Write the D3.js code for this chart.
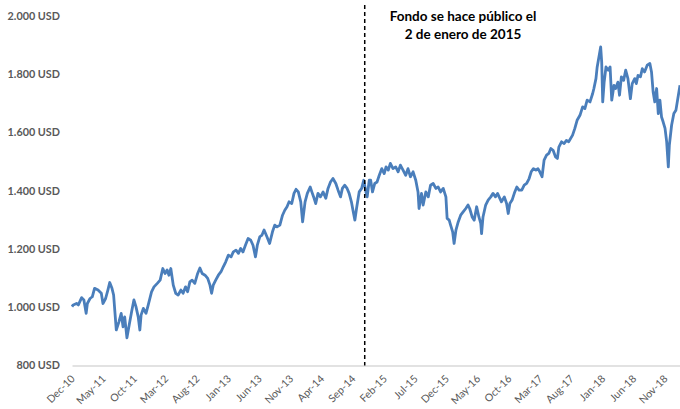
<!DOCTYPE html>
<html>
<head>
<meta charset="utf-8">
<script src="https://cdn.jsdelivr.net/npm/d3@7"></script>
<style>
  body { margin: 0; background: #fff; }
  svg { display: block; }
</style>
</head>
<body>
<div id="chart"></div>
<script>
// Fund value (USD): [date, value]
const navSeries = [
  ["2010-12-01", 1002], ["2010-12-07", 1008], ["2010-12-23", 1013], ["2011-01-01", 1008],
  ["2011-01-17", 1033], ["2011-01-28", 1025], ["2011-02-08", 979], ["2011-02-14", 1013],
  ["2011-02-27", 1030], ["2011-03-10", 1036], ["2011-03-21", 1065], ["2011-04-07", 1059],
  ["2011-04-23", 1048], ["2011-05-01", 1013], ["2011-05-14", 1030], ["2011-05-25", 1059],
  ["2011-06-03", 1085], ["2011-06-14", 1065], ["2011-06-22", 1042], ["2011-07-02", 950],
  ["2011-07-05", 922], ["2011-07-18", 950], ["2011-07-29", 979], ["2011-08-07", 933],
  ["2011-08-15", 967], ["2011-08-26", 895], ["2011-09-06", 939], ["2011-09-18", 985],
  ["2011-09-29", 1025], ["2011-10-09", 1002], ["2011-10-20", 967], ["2011-10-28", 922],
  ["2011-11-03", 973], ["2011-11-14", 996], ["2011-11-27", 979], ["2011-12-08", 1008],
  ["2011-12-24", 1053], ["2012-01-05", 1070], ["2012-01-21", 1082], ["2012-02-04", 1093],
  ["2012-02-17", 1133], ["2012-02-28", 1116], ["2012-03-09", 1128], ["2012-03-18", 1110],
  ["2012-03-27", 1133], ["2012-04-08", 1076], ["2012-04-20", 1048], ["2012-05-02", 1042],
  ["2012-05-15", 1059], ["2012-05-26", 1048], ["2012-06-07", 1070], ["2012-06-17", 1053],
  ["2012-06-28", 1087], ["2012-07-09", 1093], ["2012-07-22", 1082], ["2012-08-05", 1116],
  ["2012-08-16", 1135], ["2012-08-27", 1116], ["2012-09-10", 1110], ["2012-09-23", 1099],
  ["2012-10-04", 1076], ["2012-10-12", 1048], ["2012-10-20", 1076], ["2012-11-01", 1093],
  ["2012-11-14", 1110], ["2012-11-27", 1122], ["2012-12-08", 1139], ["2012-12-20", 1156],
  ["2013-01-02", 1179], ["2013-01-15", 1173], ["2013-01-26", 1190], ["2013-02-08", 1196],
  ["2013-02-20", 1185], ["2013-03-03", 1202], ["2013-03-14", 1190], ["2013-03-26", 1213],
  ["2013-04-08", 1236], ["2013-04-21", 1230], ["2013-05-02", 1213], ["2013-05-14", 1173],
  ["2013-05-23", 1213], ["2013-06-04", 1242], ["2013-06-15", 1248], ["2013-06-25", 1265],
  ["2013-07-09", 1242], ["2013-07-22", 1219], ["2013-08-05", 1259], ["2013-08-16", 1282],
  ["2013-08-27", 1276], ["2013-09-10", 1282], ["2013-09-23", 1316], ["2013-10-04", 1333],
  ["2013-10-15", 1345], ["2013-10-25", 1362], ["2013-11-07", 1356], ["2013-11-18", 1391],
  ["2013-11-28", 1405], ["2013-12-09", 1396], ["2013-12-21", 1362], ["2013-12-30", 1293],
  ["2014-01-11", 1362], ["2014-01-22", 1391], ["2014-02-05", 1413], ["2014-02-13", 1396],
  ["2014-02-24", 1374], ["2014-03-04", 1356], ["2014-03-15", 1391], ["2014-03-27", 1379],
  ["2014-04-09", 1396], ["2014-04-22", 1374], ["2014-05-03", 1408], ["2014-05-15", 1430],
  ["2014-05-27", 1442], ["2014-06-10", 1425], ["2014-06-21", 1402], ["2014-07-03", 1379],
  ["2014-07-12", 1408], ["2014-07-23", 1419], ["2014-08-04", 1408], ["2014-08-14", 1391],
  ["2014-08-25", 1362], ["2014-09-03", 1328], ["2014-09-11", 1299], ["2014-09-19", 1339],
  ["2014-10-02", 1396], ["2014-10-14", 1408], ["2014-10-24", 1436], ["2014-11-04", 1396],
  ["2014-11-10", 1379], ["2014-11-20", 1436], ["2014-11-27", 1436], ["2014-12-06", 1396],
  ["2014-12-17", 1425], ["2014-12-28", 1430], ["2015-01-08", 1453], ["2015-01-20", 1476],
  ["2015-02-01", 1459], ["2015-02-10", 1482], ["2015-02-21", 1471], ["2015-03-03", 1494],
  ["2015-03-16", 1476], ["2015-03-29", 1482], ["2015-04-10", 1465], ["2015-04-21", 1488],
  ["2015-05-04", 1471], ["2015-05-17", 1453], ["2015-05-28", 1476], ["2015-06-09", 1448],
  ["2015-06-22", 1465], ["2015-07-05", 1436], ["2015-07-16", 1396], ["2015-07-21", 1339],
  ["2015-08-02", 1391], ["2015-08-10", 1351], ["2015-08-23", 1396], ["2015-09-04", 1379],
  ["2015-09-15", 1419], ["2015-09-28", 1425], ["2015-10-11", 1408], ["2015-10-22", 1413],
  ["2015-11-03", 1396], ["2015-11-16", 1408], ["2015-11-29", 1379], ["2015-12-05", 1305],
  ["2015-12-15", 1299], ["2015-12-22", 1282], ["2016-01-01", 1259], ["2016-01-08", 1219],
  ["2016-01-17", 1265], ["2016-01-28", 1293], ["2016-02-09", 1316], ["2016-02-22", 1328],
  ["2016-03-05", 1339], ["2016-03-16", 1351], ["2016-03-24", 1339], ["2016-04-05", 1310],
  ["2016-04-15", 1299], ["2016-04-27", 1345], ["2016-05-08", 1310], ["2016-05-17", 1288],
  ["2016-05-21", 1253], ["2016-05-28", 1310], ["2016-06-10", 1351], ["2016-06-22", 1368],
  ["2016-07-05", 1379], ["2016-07-16", 1391], ["2016-07-28", 1379], ["2016-08-07", 1391],
  ["2016-08-18", 1374], ["2016-08-26", 1362], ["2016-09-09", 1379], ["2016-09-20", 1356],
  ["2016-09-28", 1322], ["2016-10-06", 1356], ["2016-10-17", 1368], ["2016-10-30", 1396],
  ["2016-11-09", 1413], ["2016-11-20", 1402], ["2016-12-03", 1402], ["2016-12-15", 1419],
  ["2016-12-27", 1425], ["2017-01-08", 1442], ["2017-01-18", 1465], ["2017-01-29", 1476],
  ["2017-02-10", 1471], ["2017-02-20", 1476], ["2017-03-01", 1465], ["2017-03-12", 1448],
  ["2017-03-22", 1505], ["2017-04-03", 1522], ["2017-04-14", 1528], ["2017-04-24", 1545],
  ["2017-05-05", 1539], ["2017-05-17", 1516], ["2017-05-26", 1511], ["2017-06-02", 1550],
  ["2017-06-15", 1568], ["2017-06-28", 1562], ["2017-07-09", 1573], ["2017-07-20", 1568],
  ["2017-08-08", 1591], ["2017-08-19", 1614], ["2017-08-30", 1642], ["2017-09-13", 1659],
  ["2017-09-26", 1688], ["2017-10-07", 1682], ["2017-10-18", 1711], ["2017-11-01", 1705],
  ["2017-11-14", 1734], ["2017-11-20", 1751], ["2017-11-30", 1785], ["2017-12-06", 1825],
  ["2017-12-16", 1865], ["2017-12-23", 1894], ["2017-12-28", 1842], ["2018-01-02", 1705],
  ["2018-01-09", 1773], ["2018-01-18", 1825], ["2018-01-29", 1814], ["2018-02-07", 1825],
  ["2018-02-15", 1711], ["2018-02-26", 1762], ["2018-03-06", 1751], ["2018-03-17", 1773],
  ["2018-03-25", 1728], ["2018-04-03", 1791], ["2018-04-14", 1779], ["2018-04-24", 1814],
  ["2018-05-05", 1785], ["2018-05-17", 1716], ["2018-05-26", 1768], ["2018-06-07", 1785],
  ["2018-06-15", 1768], ["2018-06-23", 1796], ["2018-07-05", 1791], ["2018-07-14", 1819],
  ["2018-07-25", 1808], ["2018-08-07", 1831], ["2018-08-20", 1837], ["2018-08-28", 1808],
  ["2018-09-05", 1739], ["2018-09-13", 1705], ["2018-09-22", 1751], ["2018-09-30", 1665],
  ["2018-10-08", 1711], ["2018-10-16", 1653], ["2018-10-24", 1636], ["2018-11-02", 1614],
  ["2018-11-10", 1568], ["2018-11-18", 1482], ["2018-11-23", 1556], ["2018-12-04", 1625],
  ["2018-12-15", 1665], ["2018-12-25", 1676], ["2019-01-06", 1728], ["2019-01-14", 1762]
];

const yTicks = [800, 1000, 1200, 1400, 1600, 1800, 2000];
const xTickLabels = [
  "Dec-10", "May-11", "Oct-11", "Mar-12", "Aug-12", "Jan-13", "Jun-13",
  "Nov-13", "Apr-14", "Sep-14", "Feb-15", "Jul-15", "Dec-15", "May-16",
  "Oct-16", "Mar-17", "Aug-17", "Jan-18", "Jun-18", "Nov-18"
];
const xDomain = ["2010-12-01", "2019-01-14"];
const markerDate = "2014-10-29";
const noteLines = ["Fondo se hace público el", "2 de enero de 2015"];

const WIDTH = 680;
const HEIGHT = 409;
const margin = { top: 16, right: 0, bottom: 43.5, left: 72 };
const FONT = "Lato, 'Open Sans', sans-serif";
const LINE_COLOR = "#4a7ebb";
const AXIS_COLOR = "#d9d9d9";
const LABEL_COLOR = "#595959";

const parseDate = d3.timeParse("%Y-%m-%d");
const parseTick = d3.timeParse("%b-%y");
const data = navSeries.map(([d, v]) => ({ date: parseDate(d), value: v }));

const svg = d3.select("#chart")
  .append("svg")
  .attr("width", WIDTH)
  .attr("height", HEIGHT);

const x = d3.scaleTime()
  .domain(xDomain.map(parseDate))
  .range([margin.left, WIDTH - margin.right]);

const y = d3.scaleLinear()
  .domain([800, 2000])
  .range([HEIGHT - margin.bottom, margin.top]);

const usd = v => d3.format(",")(v).replace(/,/g, ".") + " USD";

// y axis: labels only
const yAxis = svg.append("g")
  .attr("transform", `translate(${margin.left},0)`)
  .call(d3.axisLeft(y).tickValues(yTicks).tickSize(0).tickPadding(12).tickFormat(usd));
yAxis.select(".domain").remove();
yAxis.selectAll("text")
  .attr("fill", LABEL_COLOR)
  .attr("font-family", FONT)
  .attr("font-size", 10.8)
  .attr("font-weight", "bold");

// x axis: baseline + rotated month labels
const xAxis = svg.append("g")
  .attr("transform", `translate(0,${y(800)})`)
  .call(d3.axisBottom(x)
    .tickValues(xTickLabels.map(parseTick))
    .tickSize(0)
    .tickSizeOuter(0)
    .tickFormat(d3.timeFormat("%b-%y")));
xAxis.select(".domain")
  .attr("stroke", AXIS_COLOR)
  .attr("stroke-width", 1.5);
xAxis.selectAll("text")
  .attr("x", 0)
  .attr("y", 0)
  .attr("dy", 0)
  .attr("transform", "translate(3,14) rotate(-45)")
  .attr("text-anchor", "end")
  .attr("fill", LABEL_COLOR)
  .attr("font-family", FONT)
  .attr("font-size", 10.5);

// the series
const line = d3.line()
  .x(d => x(d.date))
  .y(d => y(d.value));

svg.append("path")
  .datum(data)
  .attr("fill", "none")
  .attr("stroke", LINE_COLOR)
  .attr("stroke-width", 2.8)
  .attr("stroke-linejoin", "round")
  .attr("d", line);

// listing marker
const mx = x(parseDate(markerDate));
svg.append("line")
  .attr("x1", mx)
  .attr("x2", mx)
  .attr("y1", 5)
  .attr("y2", y(800))
  .attr("stroke", "#000")
  .attr("stroke-width", 1.5)
  .attr("stroke-dasharray", "4,3");

svg.append("g")
  .selectAll("text")
  .data(noteLines)
  .join("text")
  .attr("x", 463)
  .attr("y", (d, i) => 21 + i * 18)
  .attr("text-anchor", "middle")
  .attr("font-family", FONT)
  .attr("font-size", 13.5)
  .attr("font-weight", "bold")
  .attr("fill", "#000")
  .text(d => d);
</script>
</body>
</html>
